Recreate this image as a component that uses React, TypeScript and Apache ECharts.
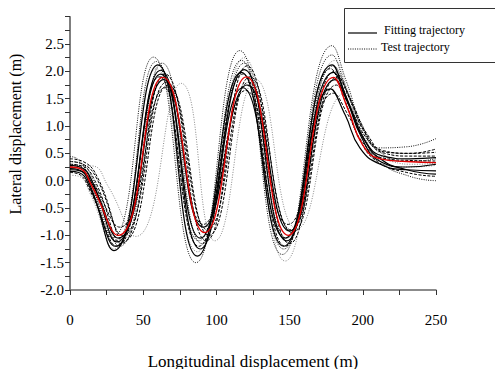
import React, { useEffect, useRef } from "react";
import * as echarts from "echarts";

type Pt = [number, number];

// tick labels
const xTickLabels = [0, 50, 100, 150, 200, 250];
const yTickLabels = [-2.0, -1.5, -1.0, -0.5, 0.0, 0.5, 1.0, 1.5, 2.0, 2.5];

const legendLabels = ["Fitting trajectory", "Test trajectory"];
const xTitle = "Longitudinal displacement (m)";
const yTitle = "Lateral displacement (m)";

// red mean curve
const redCurve: Pt[] = [[0,0.25],[7,0.22],[15,-0.1],[33,-1.0],[63.5,1.89],[92,-0.95],[120.5,1.9],[149,-1.0],[180,1.89],[190,1.3],[200,0.65],[212,0.4],[230,0.35],[250,0.33]];

// solid black curves
const solidA: Pt[] = [[0,0.22],[6,0.2],[14,-0.1],[30,-1.28],[60,2.12],[87,-1.38],[117,1.98],[146,-1.2],[179,2.12],[189,1.5],[199,0.8],[212,0.35],[230,0.25],[250,0.3]];
const solidB: Pt[] = [[0,0.17],[6,0.15],[14,-0.15],[31,-1.2],[62,1.95],[89,-1.25],[118,1.7],[147,-1.05],[178,1.68],[188,1.2],[198,0.6],[212,0.3],[230,0.2],[250,0.18]];
const solidC: Pt[] = [[0,0.2],[7,0.18],[16,-0.1],[33,-1.05],[64,1.85],[91,-0.85],[121,1.75],[150,-0.92],[181,1.85],[191,1.35],[201,0.75],[214,0.45],[232,0.4],[250,0.42]];
const solidD: Pt[] = [[0,0.28],[7,0.25],[15,0.0],[32,-1.12],[62,2.02],[89,-1.05],[119,2.03],[148,-1.1],[180,1.98],[190,1.45],[200,0.8],[212,0.4],[230,0.2],[250,0.12]];

// dashed black curves
const dashedE: Pt[] = [[0,0.3],[8,0.27],[17,0.0],[35,-1.15],[65,1.95],[93,-1.1],[121,2.1],[150,-1.15],[181,2.0],[191,1.5],[201,0.9],[214,0.55],[232,0.5],[250,0.58]];
const dashedF: Pt[] = [[0,0.35],[9,0.3],[18,0.05],[36,-1.0],[66,1.8],[94,-0.9],[122,1.8],[152,-0.95],[182,1.75],[192,1.3],[202,0.8],[215,0.5],[232,0.45],[250,0.45]];
const dashedG: Pt[] = [[0,0.15],[6,0.12],[14,-0.2],[32,-1.2],[61,1.9],[88,-1.2],[118,1.95],[147,-1.2],[178,2.05],[188,1.45],[198,0.75],[210,0.35],[230,0.15],[250,0.08]];
const dashedH: Pt[] = [[0,0.25],[8,0.22],[16,-0.05],[34,-0.85],[65,1.7],[91,-0.8],[120,1.65],[149,-0.8],[180,1.6],[190,1.2],[200,0.7],[213,0.42],[232,0.37],[250,0.36]];
const dashedI: Pt[] = [[0,0.4],[9,0.35],[19,0.05],[37,-1.1],[67,1.75],[95,-1.0],[123,1.9],[151,-0.9],[183,1.9],[193,1.4],[203,0.85],[216,0.52],[234,0.5],[250,0.52]];

// dark dotted curves
const dottedJ: Pt[] = [[0,0.44],[5,0.4],[13,0.05],[29,-1.05],[57,2.26],[86,-1.5],[116,2.38],[145,-1.35],[179,2.47],[189,1.8],[199,1.05],[211,0.6],[230,0.62],[250,0.77]];
const dottedK: Pt[] = [[0,0.3],[6,0.28],[14,-0.05],[31,-1.1],[59,2.18],[88,-1.1],[117,2.2],[146,-1.25],[179,2.3],[189,1.65],[199,0.9],[212,0.35],[232,0.08],[250,0.0]];
const dottedN: Pt[] = [[0,0.35],[7,0.32],[16,0.0],[34,-1.2],[63,2.15],[90,-1.15],[119,2.15],[148,-1.05],[180,2.1],[190,1.6],[200,0.95],[213,0.5],[232,0.35],[250,0.4]];

// light gray dotted curves
const grayL: Pt[] = [[0,0.1],[6,0.08],[14,-0.25],[30,-1.25],[59,2.05],[87,-1.3],[119,2.25],[147,-1.47],[181,2.2],[191,1.55],[201,0.85],[213,0.3],[232,0.25],[250,0.28]];
const grayM: Pt[] = [[0,0.28],[15,0.27],[26,-0.1],[45,-1.02],[76,1.78],[99,-1.1],[127,1.85],[155,-0.88],[188,1.6],[198,1.1],[208,0.6],[220,0.35],[236,0.3],[250,0.32]];

const FONT = "Liberation Serif";

export default function App() {
  const ref = useRef<HTMLDivElement>(null);
  useEffect(() => {
    document.body.style.margin = "0";
    const chart = echarts.init(ref.current!, undefined, { renderer: "svg" });
    const mk = (data: Pt[], color: string, width: number, type: any) => ({
      type: "line",
      data,
      smooth: 0.5,
      symbol: "none",
      silent: true,
      lineStyle: { color, width, type },
    });
    const series = [
      mk(grayL, "#8a8a8a", 1, [1, 1.5]),
      mk(grayM, "#8a8a8a", 1, [1, 1.5]),
      mk(dottedJ, "#111", 1, [1, 1.3]),
      mk(dottedK, "#111", 1, [1, 1.3]),
      mk(dottedN, "#111", 1, [1, 1.3]),
      mk(dashedE, "#000", 1, [3, 1.5]),
      mk(dashedF, "#000", 1, [3, 1.5]),
      mk(dashedG, "#000", 1, [3, 1.5]),
      mk(dashedH, "#000", 1, [3, 1.5]),
      mk(dashedI, "#000", 1, [3, 1.5]),
      mk(solidA, "#000", 1.2, "solid"),
      mk(solidB, "#000", 1.2, "solid"),
      mk(solidC, "#000", 1.2, "solid"),
      mk(solidD, "#000", 1.2, "solid"),
      mk(redCurve, "#e00000", 1.4, "solid"),
    ];
    chart.setOption({
      animation: false,
      textStyle: { fontFamily: FONT },
      grid: { left: 70, right: 59, top: 16.7, bottom: 79, containLabel: false },
      xAxis: {
        type: "value",
        min: 0,
        max: 250,
        interval: 25,
        splitLine: { show: false },
        axisLine: { show: true, onZero: false, lineStyle: { color: "#666", width: 1.5 } },
        axisTick: { show: true, length: 5, lineStyle: { color: "#333" } },
        axisLabel: {
          margin: 22,
          color: "#000",
          fontFamily: FONT,
          fontSize: 15,
          formatter: (v: number) => (xTickLabels.includes(v) ? String(v) : ""),
        },
      },
      yAxis: {
        type: "value",
        min: -2,
        max: 3,
        interval: 0.25,
        splitLine: { show: false },
        axisLine: { show: true, onZero: false, lineStyle: { color: "#555", width: 1.5 } },
        axisTick: { show: true, length: 5, lineStyle: { color: "#333" } },
        axisLabel: {
          margin: 6,
          color: "#000",
          fontFamily: FONT,
          fontSize: 15,
          formatter: (v: number) => (yTickLabels.includes(v) ? v.toFixed(1) : ""),
        },
      },
      series,
      graphic: [
        {
          type: "text",
          x: 253,
          y: 361,
          style: { text: xTitle, fontFamily: FONT, fontSize: 17, fill: "#000", textAlign: "center", textVerticalAlign: "middle" },
        },
        {
          type: "text",
          x: 15,
          y: 134,
          rotation: Math.PI / 2,
          style: { text: yTitle, fontFamily: FONT, fontSize: 16, fill: "#000", textAlign: "center", textVerticalAlign: "middle" },
        },
        {
          type: "rect",
          shape: { x: 344.5, y: 8.5, width: 152, height: 54 },
          style: { fill: "#fff", stroke: "#333", lineWidth: 1 },
          z: 10,
        },
        {
          type: "line",
          shape: { x1: 348, y1: 33, x2: 377, y2: 33 },
          style: { stroke: "#000", lineWidth: 1.2 },
          z: 11,
        },
        {
          type: "text",
          x: 384,
          y: 30,
          style: { text: legendLabels[0], fontFamily: FONT, fontSize: 12, fill: "#000", textVerticalAlign: "middle" },
          z: 11,
        },
        {
          type: "line",
          shape: { x1: 348, y1: 49, x2: 377, y2: 49 },
          style: { stroke: "#000", lineWidth: 1, lineDash: [1, 1.3] },
          z: 11,
        },
        {
          type: "text",
          x: 381,
          y: 47,
          style: { text: legendLabels[1], fontFamily: FONT, fontSize: 12, fill: "#000", textVerticalAlign: "middle" },
          z: 11,
        },
      ],
    });
    return () => chart.dispose();
  }, []);
  return <div ref={ref} style={{ width: 495, height: 369, position: "absolute", left: 0, top: 0 }} />;
}
